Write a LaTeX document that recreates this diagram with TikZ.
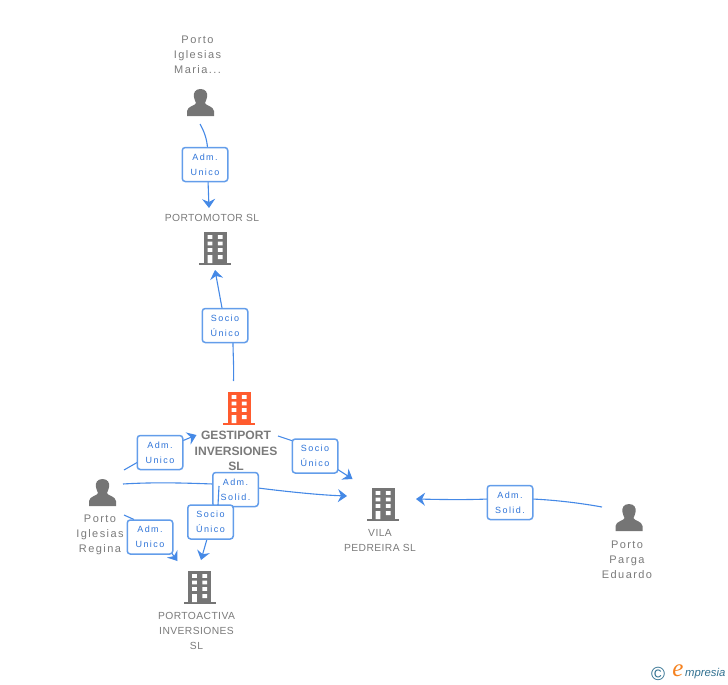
\documentclass[tikz,border=0pt]{standalone}
\usepackage{fontspec}
\setmainfont{Liberation Sans}
\newfontfamily\lblfont[LetterSpace=4]{Liberation Sans}
\newfontfamily\namefont[LetterSpace=13]{Liberation Sans}
\newfontfamily\boxfont[LetterSpace=16]{Liberation Sans}
\newfontfamily\logoefont{Liberation Serif}
\usetikzlibrary{arrows.meta}
\definecolor{greyic}{HTML}{757575}
\definecolor{greytx}{HTML}{7A7A7A}
\definecolor{orangeic}{HTML}{FF5B2E}
\definecolor{linkb}{HTML}{4589E6}
\definecolor{boxb}{HTML}{639DEA}
\definecolor{boxt}{HTML}{2F74D8}
\definecolor{teal}{HTML}{2F6F8F}
\definecolor{logoor}{HTML}{F58220}
\tikzset{
  x=1pt,y=-1pt,
  lbl/.style={font=\fontsize{10.3}{15}\lblfont,text=greytx,align=center,inner sep=0pt},
  namelbl/.style={font=\fontsize{11}{15}\namefont,text=greytx,align=center,inner sep=0pt},
  mainlbl/.style={font=\fontsize{12.1}{15.5}\bfseries,text=greytx,align=center,inner sep=0pt},
  relbox/.style={draw=boxb,line width=1.5pt,rounded corners=3pt,fill=white,minimum width=45.5pt,
    minimum height=34pt,inner sep=0pt,align=center,text=boxt,font=\fontsize{9}{15}\boxfont},
  link/.style={draw=linkb,line width=1.1pt},
  tip/.style={-{Stealth[length=9pt,width=13pt,inset=3pt]},draw=linkb,line width=1.1pt,color=linkb},
  pics/building/.style={code={
    \fill[#1] (-11.5,-33.5) rectangle (11.5,-1);
    \fill[#1] (-16,-2) rectangle (16,0);
    \fill[white]
      (-7.3,-30) rectangle (-2.7,-26.2) (2.9,-30) rectangle (7.5,-26.2)
      (-7.3,-23.5) rectangle (-2.7,-19.7) (2.9,-23.5) rectangle (7.5,-19.7)
      (-7.3,-17) rectangle (-2.7,-13.2) (2.9,-17) rectangle (7.5,-13.2)
      (-7.3,-10) rectangle (-2.7,-2) (2.9,-10) rectangle (7.5,-5.8);
  }},
  pics/person/.style={code={
    \fill[greyic] (0,-27) .. controls (-5.5,-27) and (-7,-23) .. (-6.7,-19.5)
      .. controls (-6.4,-16.5) and (-5,-15) .. (-4.5,-13)
      .. controls (-4.5,-10.5) and (-13,-10) .. (-13.5,-5) -- (-13.5,0) -- (13.5,0) -- (13.5,-5)
      .. controls (13,-10) and (4.5,-10.5) .. (4.5,-13)
      .. controls (5,-15) and (6.4,-16.5) .. (6.7,-19.5)
      .. controls (7,-23) and (5.5,-27) .. (0,-27) -- cycle;
  }}
}
\begin{document}
\begin{tikzpicture}
\useasboundingbox (0,0) rectangle (728,685);

% icons
\pic at (200.5,116) {person};
\pic at (102.5,506) {person};
\pic at (629,531) {person};
\pic at (215,265) {building=greyic};
\pic at (239,425) {building=orangeic};
\pic at (383,521) {building=greyic};
\pic at (199.5,604) {building=greyic};

% texts
\node[namelbl] (tMaria) at (197.5,55) {Porto\\Iglesias\\Maria...};
\node[lbl] (tPortomotor) at (212,217.5) {PORTOMOTOR SL};
\node[mainlbl] (tGesti) at (236,451) {GESTIPORT\\INVERSIONES\\SL};
\node[namelbl] (tRegina) at (100,535) {Porto\\Iglesias\\Regina};
\node[lbl] (tActiva) at (196.5,631) {PORTOACTIVA\\INVERSIONES\\SL};
\node[lbl] (tVila) at (380,540.5) {VILA\\PEDREIRA SL};
\node[namelbl] (tParga) at (627,560) {Porto\\Parga\\Eduardo};

% free ends
\coordinate (sMaria) at (200,124);
\coordinate (eMotor) at (209,208);
\coordinate (sGesti1) at (233.5,381);
\coordinate (eMotor2) at (215,270);
\coordinate (sGesti2) at (278,436);
\coordinate (eVila1) at (352.5,479);
\coordinate (sReg1) at (124,470);
\coordinate (eGesti) at (196.5,435);
\coordinate (sReg2) at (123,484);
\coordinate (eVila2) at (347,496);
\coordinate (sReg3) at (124,515);
\coordinate (eActiva1) at (177.5,561);
\coordinate (sGesti3) at (219,486);
\coordinate (eActiva2) at (201,560);
\coordinate (eVila3) at (416,499);
\coordinate (sParga) at (602,507);

% connectors
\draw[link] (sMaria) .. controls (204,131) and (207,139) .. (207.5,148);
\draw[tip] (208,180) -- (eMotor);
\draw[link] (sGesti1) .. controls (234,365) and (233,355) .. (233,342);
\draw[tip] (222,308) -- (eMotor2);
\draw[link] (sGesti2) -- (293,441);
\draw[tip] (337,469) -- (eVila1);
\draw[link] (sReg1) -- (138,462);
\draw[tip] (182,441) -- (eGesti);
\draw[link] (sReg2) .. controls (155,482) and (185,483) .. (213,484);
\draw[tip] (258,488) .. controls (290,492) and (320,495) .. (eVila2);
\draw[link] (sReg3) -- (134,519.5);
\draw[tip] (168,548) -- (eActiva1);
\draw[tip] (207,539) -- (eActiva2);
\draw[tip] (488,499) .. controls (465,500) and (440,499.5) .. (eVila3);
\draw[link] (sParga) .. controls (580,503) and (555,500) .. (532,499);

% relation boxes
\node[relbox] (bMaria) at (205,164.5) {Adm.\\Unico};
\node[relbox] (bMotor) at (225,325.5) {Socio\\Único};
\node[relbox] (bVila1) at (315,456) {Socio\\Único};
\node[relbox] (bGesti) at (160,452.5) {Adm.\\Unico};
\node[relbox] (bSolid) at (235.5,489.5) {Adm.\\Solid.};
\node[relbox] (bActiva1) at (150,537) {Adm.\\Unico};
\node[relbox] (bActiva2) at (210.5,522) {Socio\\Único};
\node[relbox] (bParga) at (510,502.5) {Adm.\\Solid.};
\draw[link] (sGesti3) -- (218,505);

% logo
\node[inner sep=0pt,text=teal,font=\fontsize{19}{19}\selectfont] (logoC) at (658,674) {©};
\node[inner sep=0pt,text=logoor,font=\fontsize{25}{25}\logoefont\itshape] (logoE) at (678,671) {e};
\node[inner sep=0pt,text=teal,anchor=west,font=\fontsize{11.3}{12}\itshape] (logoT) at (685,673.5) {mpresia};
\end{tikzpicture}
\end{document}
